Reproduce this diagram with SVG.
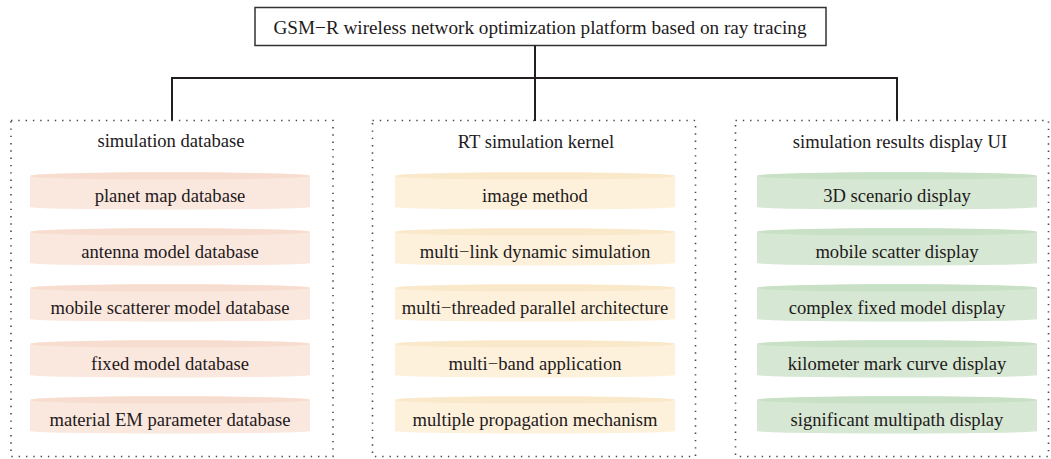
<svg xmlns="http://www.w3.org/2000/svg" width="1051" height="459" viewBox="0 0 1051 459">
  <defs>
    <style>
      text { font-family: "Liberation Serif", "Times New Roman", serif; font-size: 18.6px; fill: #1e1a1b; text-anchor: middle; dominant-baseline: central; }
      .title { font-size: 19.2px; }
      .frame { fill: #ffffff; stroke: #333333; stroke-width: 1.5; }
      .group { fill: none; stroke: #4a4a4a; stroke-width: 1.6; stroke-dasharray: 1.4 5.9; }
      .link { fill: none; stroke: #231f20; stroke-width: 2; }
    </style>
    <filter id="soft" x="-5%" y="-20%" width="110%" height="140%">
      <feGaussianBlur stdDeviation="0.5"/>
    </filter>
    <!-- disk-shaped items: 280 wide, 38 tall, one per colour -->
    <g id="disk-pink" filter="url(#soft)">
      <path fill="#fae7de" d="M0,4 A140,4 0 0 1 280,4 L280,35 A140,2.5 0 0 1 0,35 Z"/>
      <ellipse fill="#f6ddd0" cx="140" cy="4" rx="140" ry="3.6"/>
    </g>
    <g id="disk-gold" filter="url(#soft)">
      <path fill="#fdf1dc" d="M0,4 A140,4 0 0 1 280,4 L280,35 A140,2.5 0 0 1 0,35 Z"/>
      <ellipse fill="#f9e8ca" cx="140" cy="4" rx="140" ry="3.6"/>
    </g>
    <g id="disk-green" filter="url(#soft)">
      <path fill="#d6e8d3" d="M0,4 A140,4 0 0 1 280,4 L280,35 A140,2.5 0 0 1 0,35 Z"/>
      <ellipse fill="#c8e0c5" cx="140" cy="4" rx="140" ry="3.6"/>
    </g>
  </defs>

  <!-- root -->
  <g id="root">
    <rect class="frame" x="255" y="7.5" width="571" height="38"/>
    <text class="title" x="540" y="27">GSM−R wireless network optimization platform based on ray tracing</text>
  </g>

  <!-- connectors -->
  <g id="connectors">
    <line class="link" x1="535" y1="45.5" x2="535" y2="121"/>
    <line class="link" x1="171" y1="78" x2="898" y2="78"/>
    <line class="link" x1="172" y1="77" x2="172" y2="121"/>
    <line class="link" x1="897" y1="77" x2="897" y2="121"/>
  </g>

  <!-- column 1 -->
  <g id="simulation-database">
    <rect class="group" x="11" y="120.5" width="322" height="336"/>
    <text x="171" y="140">simulation database</text>
    <g id="planet-map-database"><use href="#disk-pink" x="30" y="172"/><text x="170" y="195">planet map database</text></g>
    <g id="antenna-model-database"><use href="#disk-pink" x="30" y="228"/><text x="170" y="251">antenna model database</text></g>
    <g id="mobile-scatterer-model-database"><use href="#disk-pink" x="30" y="284"/><text x="170" y="307">mobile scatterer model database</text></g>
    <g id="fixed-model-database"><use href="#disk-pink" x="30" y="340"/><text x="170" y="363">fixed model database</text></g>
    <g id="material-em-parameter-database"><use href="#disk-pink" x="30" y="396"/><text x="170" y="419">material EM parameter database</text></g>
  </g>

  <!-- column 2 -->
  <g id="rt-simulation-kernel">
    <rect class="group" x="372.5" y="120.5" width="323" height="336"/>
    <text x="536" y="141">RT simulation kernel</text>
    <g id="image-method"><use href="#disk-gold" x="395" y="172"/><text x="535" y="195">image method</text></g>
    <g id="multi-link-dynamic-simulation"><use href="#disk-gold" x="395" y="228"/><text x="535" y="251">multi−link dynamic simulation</text></g>
    <g id="multi-threaded-parallel-architecture"><use href="#disk-gold" x="395" y="284"/><text x="535" y="307">multi−threaded parallel architecture</text></g>
    <g id="multi-band-application"><use href="#disk-gold" x="395" y="340"/><text x="535" y="363">multi−band application</text></g>
    <g id="multiple-propagation-mechanism"><use href="#disk-gold" x="395" y="396"/><text x="535" y="419">multiple propagation mechanism</text></g>
  </g>

  <!-- column 3 -->
  <g id="simulation-results-display-ui">
    <rect class="group" x="735.5" y="120.5" width="313" height="336"/>
    <text x="900" y="141">simulation results display UI</text>
    <g id="3d-scenario-display"><use href="#disk-green" x="757" y="172"/><text x="897" y="195">3D scenario display</text></g>
    <g id="mobile-scatter-display"><use href="#disk-green" x="757" y="228"/><text x="897" y="251">mobile scatter display</text></g>
    <g id="complex-fixed-model-display"><use href="#disk-green" x="757" y="284"/><text x="897" y="307">complex fixed model display</text></g>
    <g id="kilometer-mark-curve-display"><use href="#disk-green" x="757" y="340"/><text x="897" y="363">kilometer mark curve display</text></g>
    <g id="significant-multipath-display"><use href="#disk-green" x="757" y="396"/><text x="897" y="419">significant multipath display</text></g>
  </g>
</svg>
